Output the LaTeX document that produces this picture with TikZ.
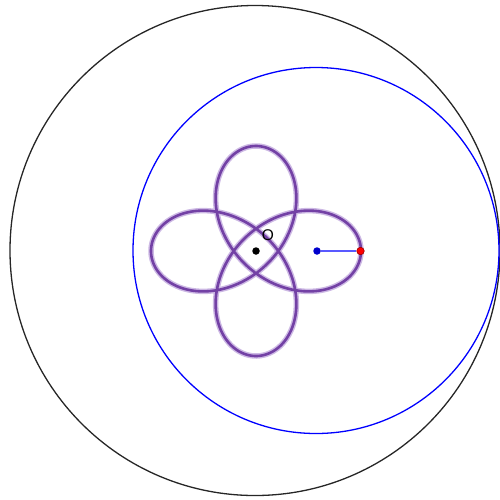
\documentclass[tikz,border=0pt]{standalone}
\usepackage{fontspec}
\setmainfont{Liberation Sans}
\begin{document}
\begin{tikzpicture}[x=1pt,y=-1pt,
  dotstyle/.style={circle,inner sep=0pt,minimum size=7.5pt},
  curvehalo/.style={line width=5.5pt,color={rgb,255:red,205;green,185;blue,228}},
  curvecore/.style={line width=2.6pt,color={rgb,255:red,115;green,65;blue,165}}]
\useasboundingbox (0,0) rectangle (500,499);
% fixed circle
\draw[line width=1.3pt,black!85] (255,250.5) circle (245);
% rolling circle
\draw[line width=1.3pt,blue] (316,250.5) circle (183);
% hypotrochoid
\begin{scope}[shift={(256,251)}]
\draw[curvehalo,smooth,variable=\t,samples=600,domain=0:1080]
  plot ({61*cos(\t)+44*cos(\t/3)},{61*sin(\t)-44*sin(\t/3)});
\draw[curvecore,smooth,variable=\t,samples=600,domain=0:1080]
  plot ({61*cos(\t)+44*cos(\t/3)},{61*sin(\t)-44*sin(\t/3)});
\end{scope}
\node[dotstyle,fill=black] (O) at (256,251) {};
\node[font=\fontsize{15.5}{18}\selectfont,inner sep=0pt] (Olab) at (268,235) {O};
\node[dotstyle,fill=blue!80!black] (C) at (317,251) {};
\node[dotstyle,fill=red,draw=red!60!black,line width=0.6pt] (P) at (360.5,251) {};
\draw[line width=1.3pt,blue!65] (C) -- (P);
\end{tikzpicture}
\end{document}
